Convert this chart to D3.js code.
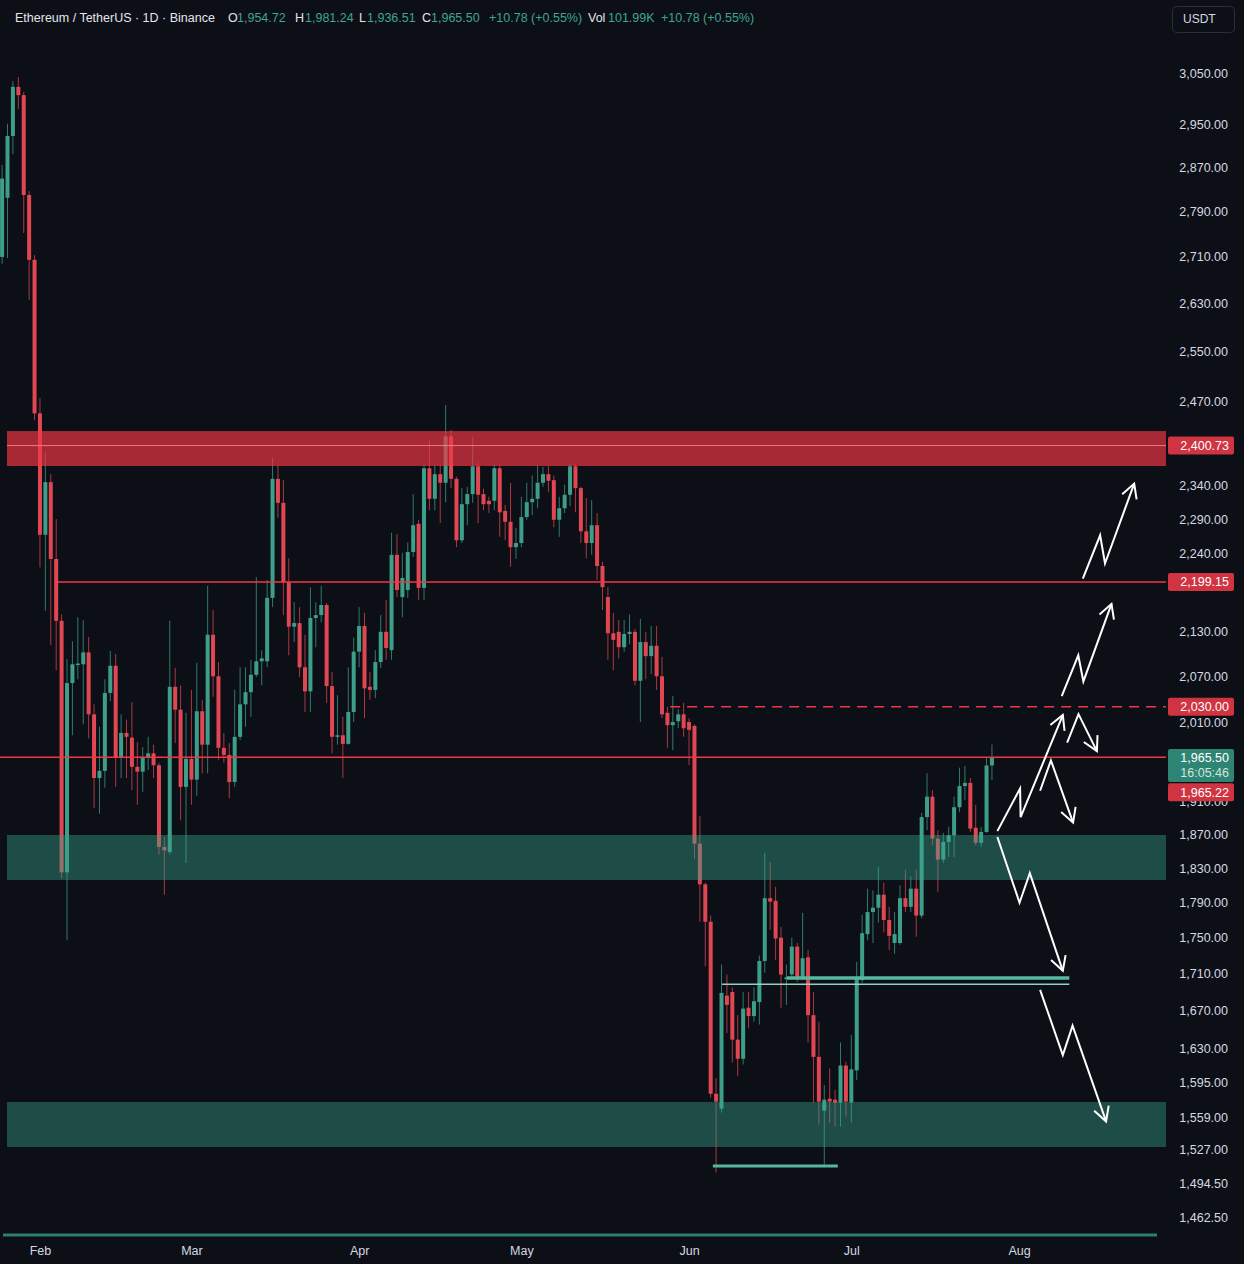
<!DOCTYPE html>
<html>
<head>
<meta charset="utf-8">
<script src="https://cdnjs.cloudflare.com/ajax/libs/d3/7.8.5/d3.min.js"></script>
<style>
  body { margin: 0; background: #0c0f16; overflow: hidden; }
  svg { display: block; font-family: "Liberation Sans", Arial, sans-serif; }
</style>
</head>
<body>
<script>
// ETH/USDT daily candles, first candle = 25 Jan, one row per day: [open, high, low, close]
const ohlc = [
  [2710, 2875, 2698, 2850], [2815, 2952, 2708, 2929], [2929, 3034, 2895, 3023], [3023, 3042, 2980, 3007],
  [3007, 3013, 2752, 2820], [2820, 2827, 2636, 2705], [2705, 2713, 2440, 2451], [2451, 2475, 2220, 2267],
  [2267, 2391, 2159, 2345], [2345, 2357, 2112, 2232], [2232, 2290, 2078, 2145], [2145, 2154, 1818, 1825],
  [1825, 2093, 1747, 2061], [2061, 2117, 1993, 2086], [2085, 2150, 2066, 2087], [2086, 2146, 2007, 2102],
  [2102, 2123, 1989, 2020], [2020, 2033, 1902, 1939], [1939, 2004, 1895, 1948], [1948, 2066, 1927, 2048],
  [2048, 2104, 2037, 2084], [2084, 2100, 1928, 1965], [1965, 2020, 1939, 1996], [1996, 2013, 1939, 1991],
  [1990, 2036, 1924, 1953], [1953, 1984, 1906, 1947], [1947, 1978, 1922, 1965], [1965, 1991, 1949, 1970],
  [1970, 1981, 1939, 1955], [1955, 1958, 1846, 1855], [1855, 1867, 1799, 1851], [1849, 2145, 1846, 2056],
  [2056, 2081, 1983, 2026], [2026, 2058, 1887, 1928], [1928, 2022, 1836, 1963], [1963, 2052, 1906, 1937],
  [1937, 2088, 1917, 2024], [2024, 2039, 1945, 1981], [1981, 2194, 1945, 2126], [2126, 2160, 2043, 2070],
  [2070, 2089, 1962, 1977], [1977, 1996, 1958, 1968], [1968, 1983, 1914, 1934], [1934, 2052, 1928, 1991],
  [1991, 2082, 1987, 2033], [2033, 2082, 2004, 2049], [2049, 2092, 2017, 2072], [2072, 2206, 2069, 2090],
  [2090, 2105, 2058, 2094], [2090, 2202, 2082, 2177], [2177, 2382, 2164, 2350], [2350, 2371, 2292, 2314],
  [2314, 2348, 2153, 2199], [2199, 2233, 2098, 2137], [2137, 2171, 2116, 2142], [2142, 2164, 2069, 2082],
  [2082, 2126, 2023, 2050], [2050, 2192, 2023, 2149], [2149, 2171, 2109, 2153], [2153, 2194, 2143, 2167],
  [2167, 2170, 2035, 2057], [2057, 2076, 1970, 1991], [1991, 2045, 1981, 1993], [1993, 2017, 1939, 1982],
  [1982, 2082, 1981, 2023], [2023, 2122, 2010, 2103], [2103, 2164, 2082, 2138], [2138, 2156, 2015, 2054],
  [2056, 2076, 2039, 2052], [2052, 2105, 2041, 2089], [2089, 2153, 2081, 2130], [2130, 2174, 2092, 2108],
  [2105, 2270, 2092, 2238], [2238, 2268, 2178, 2188], [2178, 2241, 2150, 2205], [2188, 2256, 2177, 2242],
  [2242, 2327, 2235, 2281], [2283, 2289, 2174, 2191], [2191, 2371, 2174, 2366], [2366, 2409, 2303, 2320],
  [2320, 2371, 2303, 2357], [2357, 2371, 2284, 2344], [2344, 2464, 2315, 2415], [2415, 2425, 2336, 2350],
  [2350, 2353, 2249, 2259], [2259, 2336, 2255, 2312], [2312, 2338, 2281, 2327], [2327, 2414, 2314, 2369],
  [2369, 2374, 2284, 2326], [2327, 2335, 2303, 2312], [2317, 2323, 2299, 2312], [2317, 2371, 2303, 2366],
  [2366, 2371, 2264, 2300], [2302, 2311, 2259, 2286], [2286, 2344, 2221, 2249], [2249, 2277, 2232, 2255],
  [2255, 2323, 2249, 2293], [2293, 2344, 2289, 2315], [2315, 2355, 2296, 2320], [2320, 2371, 2306, 2344],
  [2344, 2368, 2338, 2357], [2357, 2369, 2330, 2347], [2348, 2355, 2278, 2289], [2289, 2323, 2264, 2306],
  [2306, 2341, 2299, 2326], [2326, 2372, 2309, 2369], [2369, 2372, 2300, 2336], [2336, 2338, 2255, 2272],
  [2272, 2321, 2233, 2255], [2255, 2318, 2238, 2281], [2281, 2299, 2202, 2222], [2222, 2228, 2160, 2192],
  [2178, 2192, 2092, 2128], [2128, 2156, 2078, 2119], [2130, 2146, 2094, 2109], [2109, 2146, 2103, 2127],
  [2127, 2154, 2113, 2130], [2130, 2134, 2058, 2064], [2064, 2148, 2010, 2116], [2116, 2130, 2066, 2097],
  [2097, 2138, 2073, 2111], [2111, 2138, 2052, 2070], [2070, 2096, 2015, 2020], [2022, 2030, 1977, 2006],
  [2006, 2044, 1974, 2010], [2011, 2027, 2002, 2020], [2020, 2035, 1991, 2002], [2010, 2015, 1955, 2000],
  [2005, 2007, 1841, 1859], [1859, 1892, 1768, 1811], [1811, 1813, 1718, 1768], [1768, 1775, 1579, 1583],
  [1583, 1599, 1505, 1575], [1568, 1720, 1564, 1689], [1686, 1709, 1646, 1676], [1690, 1695, 1615, 1639],
  [1639, 1665, 1601, 1619], [1619, 1690, 1613, 1672], [1673, 1690, 1651, 1664], [1664, 1695, 1658, 1680],
  [1679, 1730, 1655, 1724], [1724, 1848, 1711, 1795], [1795, 1837, 1759, 1791], [1792, 1808, 1725, 1749],
  [1750, 1762, 1673, 1709], [1704, 1720, 1676, 1706], [1709, 1750, 1705, 1740], [1740, 1744, 1701, 1706],
  [1706, 1778, 1703, 1727], [1728, 1736, 1636, 1665], [1665, 1690, 1574, 1621], [1621, 1658, 1552, 1575],
  [1566, 1592, 1510, 1577], [1578, 1609, 1554, 1575], [1577, 1587, 1550, 1574], [1574, 1636, 1550, 1612],
  [1612, 1616, 1560, 1575], [1574, 1644, 1554, 1608], [1607, 1723, 1597, 1705], [1703, 1776, 1700, 1755],
  [1754, 1806, 1747, 1779], [1779, 1804, 1744, 1784], [1784, 1831, 1767, 1799], [1799, 1813, 1756, 1770],
  [1770, 1785, 1736, 1752], [1744, 1779, 1732, 1754], [1744, 1810, 1742, 1795], [1795, 1828, 1779, 1785],
  [1785, 1820, 1779, 1806], [1806, 1828, 1751, 1775], [1775, 1896, 1772, 1891], [1891, 1945, 1875, 1916],
  [1916, 1924, 1857, 1865], [1865, 1875, 1802, 1840], [1840, 1872, 1836, 1861], [1861, 1879, 1843, 1869],
  [1869, 1916, 1843, 1903], [1903, 1952, 1897, 1929], [1929, 1954, 1912, 1933], [1933, 1939, 1873, 1877],
  [1878, 1906, 1857, 1860], [1860, 1879, 1855, 1873], [1873, 1964, 1872, 1954.72], [1954.72, 1981.24, 1936.51, 1965.50]
];

const yTicks = [3050, 2950, 2870, 2790, 2710, 2630, 2550, 2470, 2340, 2290, 2240, 2130, 2070, 2010,
  1910, 1870, 1830, 1790, 1750, 1710, 1670, 1630, 1595, 1559, 1527, 1494.5, 1462.5];
const monthNames = ["Feb", "Mar", "Apr", "May", "Jun", "Jul", "Aug"];

// drawn levels
const resistZone = [2369.4, 2423.2];
const resistMid = 2400.73;
const supportZones = [[1816, 1869.3], [1529.8, 1574.6]];
const zoneStartDay = 0.9;
const redLevel = 2199.15, redLevelFrom = 10.15;
const dashedLevel = 2030.00, dashedFrom = 123.5;
const alertLevel = 1965.22;
const lastPrice = 1965.50, lastCountdown = "16:05:46";
const greenLevels = [1705.2, 1698.5, 1511.2];
const greenFrom = [145.1, 133.1, 131.4];
const greenTo = [197.3, 197.3, 154.5];

// scenario arrows as [day index, price]
const arrows = [
  [[199.8, 2204], [203.0, 2266.3], [203.9, 2225.6], [209.3, 2342.8]],
  [[195.9, 2043.9], [198.96, 2098.1], [199.9, 2063.2], [205.1, 2168.6]],
  [[184.0, 1874], [188.2, 1925.9], [188.3, 1890.8], [196.1, 2019.1]],
  [[196.9, 1983.5], [199.0, 2020.3], [202.4, 1972.8]],
  [[191.9, 1923.2], [193.9, 1961.1], [198.0, 1884.2]],
  [[184.0, 1866.9], [188.1, 1789.7], [190.0, 1824], [196.1, 1713.1]],
  [[191.9, 1692.3], [196.1, 1622.9], [197.9, 1653.8], [204.1, 1555.1]]
];

const W = 1244, H = 1264, plotRight = 1166;
const up = "#3d9e89", down = "#e04752";
const DAY = 864e5, t0 = Date.UTC(2023, 0, 25);
const dayDate = i => new Date(t0 + i * DAY);

const x = d3.scaleUtc().domain([dayDate(0), dayDate(188)]).range([2.1, 1019]);
const xi = i => x(dayDate(i));
const y = d3.scaleLog().domain([1462.5, 3050]).range([1217, 73]);

const svg = d3.select("body").append("svg").attr("width", W).attr("height", H);
svg.append("rect").attr("width", W).attr("height", H).attr("fill", "#0c0f16");

// candles
const candles = svg.append("g");
const cg = candles.selectAll("g").data(ohlc).join("g");
cg.append("line")
  .attr("x1", (d, i) => xi(i)).attr("x2", (d, i) => xi(i))
  .attr("y1", d => y(d[1])).attr("y2", d => y(d[2]))
  .attr("stroke", d => d[3] >= d[0] ? up : down)
  .attr("stroke-opacity", 0.75).attr("stroke-width", 1);
cg.append("rect")
  .attr("x", (d, i) => xi(i) - 2).attr("width", 4)
  .attr("y", d => y(Math.max(d[0], d[3])))
  .attr("height", d => Math.max(1.5, Math.abs(y(d[0]) - y(d[3]))))
  .attr("fill", d => d[3] >= d[0] ? up : down);

// zones
const zx = xi(zoneStartDay);
svg.append("rect")
  .attr("x", zx).attr("width", plotRight - zx)
  .attr("y", y(resistZone[1])).attr("height", y(resistZone[0]) - y(resistZone[1]))
  .attr("fill", "#f23645").attr("fill-opacity", 0.68);
svg.append("line")
  .attr("x1", zx).attr("x2", plotRight).attr("y1", y(resistMid)).attr("y2", y(resistMid))
  .attr("stroke", "#ff8a8f").attr("stroke-width", 1).attr("stroke-opacity", 0.8);
svg.selectAll(".sz").data(supportZones).join("rect")
  .attr("x", zx).attr("width", plotRight - zx)
  .attr("y", d => y(d[1])).attr("height", d => y(d[0]) - y(d[1]))
  .attr("fill", "#3aa58c").attr("fill-opacity", 0.42);

// red levels
svg.append("line")
  .attr("x1", xi(redLevelFrom)).attr("x2", plotRight).attr("y1", y(redLevel)).attr("y2", y(redLevel))
  .attr("stroke", "#f23645").attr("stroke-width", 1.5);
svg.append("line")
  .attr("x1", xi(dashedFrom)).attr("x2", plotRight).attr("y1", y(dashedLevel)).attr("y2", y(dashedLevel))
  .attr("stroke", "#f23645").attr("stroke-width", 1.5).attr("stroke-dasharray", "10,7");
svg.append("line")
  .attr("x1", 0).attr("x2", plotRight).attr("y1", y(alertLevel)).attr("y2", y(alertLevel))
  .attr("stroke", "#f23645").attr("stroke-width", 1.5);

// green levels
const gStroke = ["#55b99f", "#8fd3c0", "#55b99f"], gWidth = [3.5, 1.5, 3];
svg.selectAll(".gl").data(greenLevels).join("line")
  .attr("x1", (d, i) => xi(greenFrom[i])).attr("x2", (d, i) => xi(greenTo[i]))
  .attr("y1", d => y(d)).attr("y2", d => y(d))
  .attr("stroke", (d, i) => gStroke[i]).attr("stroke-width", (d, i) => gWidth[i]);

// arrows
const line = d3.line().x(d => xi(d[0])).y(d => y(d[1]));
arrows.forEach(pts => {
  svg.append("path").attr("d", line(pts)).attr("fill", "none")
    .attr("stroke", "#fff").attr("stroke-width", 2).attr("stroke-linejoin", "miter");
  const a = pts[pts.length - 2], b = pts[pts.length - 1];
  const bx = xi(b[0]), by = y(b[1]);
  const ang = Math.atan2(by - y(a[1]), bx - xi(a[0]));
  const head = [-0.5, 0.5].map(s => [bx - 16 * Math.cos(ang + s), by - 16 * Math.sin(ang + s)]);
  svg.append("path")
    .attr("d", `M${head[0]}L${bx},${by}L${head[1]}`)
    .attr("fill", "none").attr("stroke", "#fff").attr("stroke-width", 2);
});

// bottom strip
svg.append("line").attr("x1", 3).attr("x2", 1157).attr("y1", 1235).attr("y2", 1235)
  .attr("stroke", "#2f7f6f").attr("stroke-width", 3);

// y axis
const gy = svg.append("g").attr("transform", `translate(${plotRight},0)`)
  .call(d3.axisRight(y).tickValues(yTicks).tickFormat(d3.format(",.2f")).tickSize(0));
gy.select(".domain").remove();
gy.selectAll("text").attr("x", 62).attr("text-anchor", "end")
  .attr("fill", "#d6d9e0").style("font-size", "12.5px").style("font-family", "Liberation Sans, Arial, sans-serif");

// x axis
const monthDates = monthNames.map((m, i) => new Date(Date.UTC(2023, i + 1, 1)));
const gx = svg.append("g").attr("transform", "translate(0,1243)")
  .call(d3.axisBottom(x).tickValues(monthDates).tickFormat(d3.utcFormat("%b")).tickSize(0));
gx.select(".domain").remove();
gx.selectAll("text").attr("fill", "#d6d9e0").style("font-size", "12.5px")
  .style("font-family", "Liberation Sans, Arial, sans-serif");

// price tags
const tags = svg.append("g").style("font-size", "12.5px");
function tag(price, label, fill, dy) {
  const cy = y(price) + (dy || 0);
  tags.append("rect").attr("x", 1168).attr("y", cy - 9).attr("width", 66).attr("height", 18)
    .attr("rx", 2).attr("fill", fill);
  tags.append("text").attr("x", 1229).attr("y", cy).attr("dy", "0.35em")
    .attr("text-anchor", "end").attr("fill", "#fff").text(label);
}
const fmt = d3.format(",.2f");
tag(resistMid, fmt(resistMid), "#cf3440");
tag(redLevel, fmt(redLevel), "#cf3440");
tag(dashedLevel, fmt(dashedLevel), "#cf3440");
const ly = y(lastPrice);
tags.append("rect").attr("x", 1168).attr("y", ly - 8).attr("width", 66).attr("height", 33)
  .attr("rx", 2).attr("fill", "#2f8573");
tags.append("text").attr("x", 1229).attr("y", ly + 1).attr("dy", "0.35em")
  .attr("text-anchor", "end").attr("fill", "#fff").text(fmt(lastPrice));
tags.append("text").attr("x", 1229).attr("y", ly + 16).attr("dy", "0.35em")
  .attr("text-anchor", "end").attr("fill", "#cfe6df").text(lastCountdown);
tag(alertLevel, fmt(alertLevel), "#cf3440", 35);

// currency button
svg.append("rect").attr("x", 1172.5).attr("y", 6.5).attr("width", 62).attr("height", 26).attr("rx", 4)
  .attr("fill", "none").attr("stroke", "#2a2e39");
svg.append("text").attr("x", 1183).attr("y", 23).attr("fill", "#d6d9e0")
  .style("font-size", "12px").text("USDT");

// header legend
const hdr = svg.append("g").style("font-size", "12.5px").attr("transform", "translate(0,22)");
const legend = [
  [15, "Ethereum / TetherUS · 1D · Binance", "#e3e6ec"],
  [228, "O", "#e3e6ec"], [237, "1,954.72", "#3fa58f"],
  [295, "H", "#e3e6ec"], [305, "1,981.24", "#3fa58f"],
  [359, "L", "#e3e6ec"], [367, "1,936.51", "#3fa58f"],
  [422, "C", "#e3e6ec"], [431, "1,965.50", "#3fa58f"],
  [489, "+10.78 (+0.55%)", "#3fa58f"],
  [588, "Vol", "#e3e6ec"], [608, "101.99K", "#3fa58f"],
  [661, "+10.78 (+0.55%)", "#3fa58f"]
];
hdr.selectAll("text").data(legend).join("text")
  .attr("x", d => d[0]).attr("fill", d => d[2]).text(d => d[1]);
</script>
</body>
